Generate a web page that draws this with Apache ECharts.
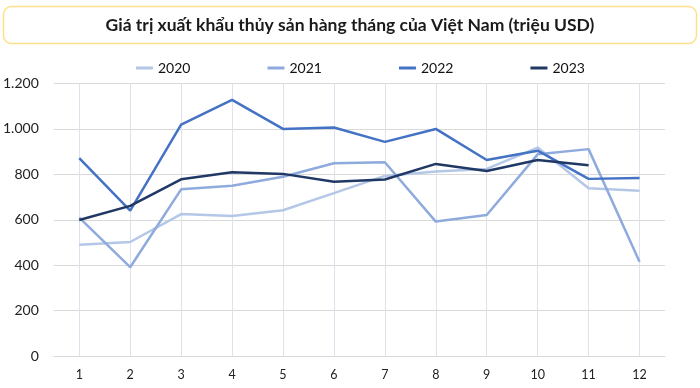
<!DOCTYPE html>
<html>
<head>
<meta charset="utf-8">
<script src="https://cdn.jsdelivr.net/npm/echarts@6/dist/echarts.min.js"></script>
<style>
html,body{margin:0;padding:0;background:#fff;}
#chart{width:700px;height:388px;}
</style>
</head>
<body>
<div id="chart"></div>
<script>
const titleText = 'Giá trị xuất khẩu thủy sản hàng tháng của Việt Nam (triệu USD)';
const months = ['1','2','3','4','5','6','7','8','9','10','11','12'];
const seriesNames = ['2020','2021','2022','2023'];
const v2020 = [490, 502, 625, 617, 642, 717, 793, 812, 824, 918, 739, 728];
const v2021 = [609, 391, 734, 750, 789, 849, 853, 592, 621, 888, 911, 415];
const v2022 = [871, 640, 1019, 1128, 1000, 1006, 943, 1000, 863, 904, 780, 784];
const v2023 = [599, 661, 778, 809, 802, 767, 777, 846, 815, 863, 840, null];
const colors = ['#b4c7e7', '#8faadc', '#4472c4', '#203864'];
const allValues = [v2020, v2021, v2022, v2023];

const chart = echarts.init(document.getElementById('chart'));
const fontFam = 'Lato, "Noto Sans", sans-serif';

chart.setOption({
  animation: false,
  backgroundColor: '#ffffff',
  graphic: [{
    type: 'rect',
    shape: { x: 3.5, y: 6.5, width: 693, height: 37, r: 8 },
    style: { fill: '#ffffff', stroke: '#ffe08a', lineWidth: 1.5 },
    z: 0
  }, {
    type: 'text',
    x: 350, y: 25,
    style: {
      text: titleText,
      fill: '#1a1a1a',
      font: 'bold 17.5px ' + fontFam,
      textAlign: 'center',
      textVerticalAlign: 'middle'
    },
    z: 1
  }],
  legend: {
    left: 131,
    top: 56,
    itemWidth: 17,
    itemHeight: 3,
    itemGap: 77,
    icon: 'rect',
    textStyle: { fontFamily: fontFam, fontSize: 14, color: '#111' },
    data: seriesNames
  },
  grid: { left: 52, right: 35, top: 83.5, bottom: 32, containLabel: false },
  xAxis: {
    type: 'category',
    data: months,
    boundaryGap: true,
    axisLine: { show: true, lineStyle: { color: '#d9d9d9', width: 1 } },
    axisTick: { show: false },
    axisLabel: { fontFamily: fontFam, fontSize: 12.5, color: '#222', margin: 12 },
    splitLine: { show: true, alignWithLabel: true, lineStyle: { color: '#dfe2ea', width: 1 } }
  },
  yAxis: {
    type: 'value',
    min: 0, max: 1200, interval: 200,
    axisLine: { show: false },
    axisTick: { show: false },
    axisLabel: {
      fontFamily: fontFam, fontSize: 14, color: '#222', margin: 15,
      formatter: v => v >= 1000 ? Math.floor(v/1000) + '.' + String(v % 1000).padStart(3,'0') : String(v)
    },
    splitLine: { lineStyle: { color: '#d9d9d9', width: 1 } }
  },
  series: seriesNames.map((n, i) => ({
    name: n,
    type: 'line',
    data: allValues[i],
    showSymbol: false,
    symbol: 'none',
    lineStyle: { color: colors[i], width: 2.5 },
    itemStyle: { color: colors[i] },
    connectNulls: false,
    z: 2 + i
  }))
});
</script>
</body>
</html>
